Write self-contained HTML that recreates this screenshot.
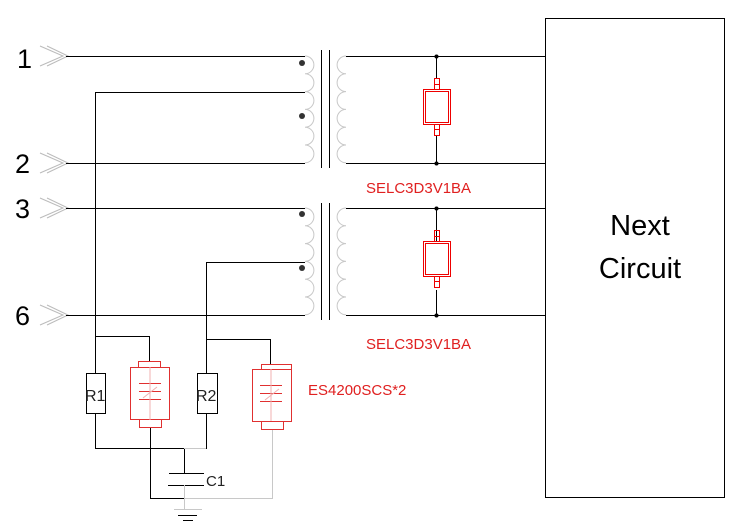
<!DOCTYPE html>
<html><head><style>body{margin:0;background:#fff}svg{display:block}</style></head><body>
<svg width="741" height="525" xmlns="http://www.w3.org/2000/svg" font-family="Liberation Sans, sans-serif">
<rect width="741" height="525" fill="#fff"/>
<rect x="545.5" y="18.5" width="179" height="479" fill="none" stroke="#000"/>
<text x="640" y="235" font-size="29" text-anchor="middle">Next</text>
<text x="640" y="278" font-size="29" text-anchor="middle">Circuit</text>
<g font-size="27"><text x="17" y="68">1</text><text x="15" y="173">2</text><text x="15" y="218">3</text><text x="15" y="325">6</text></g>
<g fill="none" stroke="#bbb" stroke-width="1">
<path d="M40 46 L63 56 L40 66 M47 46 L68 56 L47 66"/>
<path d="M40 153 L63 163 L40 173 M47 153 L68 163 L47 173"/>
<path d="M40 198 L63 208 L40 218 M47 198 L68 208 L47 218"/>
<path d="M40 305 L63 315 L40 325 M47 305 L68 315 L47 325"/>
</g>
<g stroke="#000" fill="none">
<path d="M66 56.5H305M66 163.5H305M66 208.5H305M66 315.5H305"/>
<path d="M305 92.5H95.5V373M305 262.5H206.5V373"/>
<path d="M346 56.5H545M346 163.5H545M346 208.5H545M346 315.5H545"/>
<path d="M321.5 50V168M329.5 50V168M321.5 203V320M329.5 203V320"/>
<path d="M436.5 56V78M436.5 135V163M436.5 208V242M436.5 290V315"/>
<path d="M95.5 336.5H149.5V361M206.5 339.5H270.5V364"/>
<path d="M95.5 413V448.5H206.5V413M150.5 427V498.5H184M184.5 448V473M169 473.5H204M168 485.5H204"/>
<path d="M178 515.5H197M183 520.5H193"/>
</g>
<g fill="#333"><circle cx="302" cy="63" r="3"/><circle cx="302" cy="116" r="3"/><circle cx="302" cy="214" r="3"/><circle cx="302" cy="268" r="3"/></g>
<g fill="#000"><circle cx="436.5" cy="56.5" r="2"/><circle cx="436.5" cy="163.5" r="2"/><circle cx="436.5" cy="208.5" r="2"/><circle cx="436.5" cy="315.5" r="2"/></g>
<g fill="none" stroke="#c8c8c8">
<path d="M305 56 a8.9 8.9 0 0 1 0 17.8 a8.9 8.9 0 0 1 0 17.8 a8.9 8.9 0 0 1 0 17.8 a8.9 8.9 0 0 1 0 17.8 a8.9 8.9 0 0 1 0 17.8 a8.9 8.9 0 0 1 0 17.8"/>
<path d="M346 56 a8.9 8.9 0 0 0 0 17.8 a8.9 8.9 0 0 0 0 17.8 a8.9 8.9 0 0 0 0 17.8 a8.9 8.9 0 0 0 0 17.8 a8.9 8.9 0 0 0 0 17.8 a8.9 8.9 0 0 0 0 17.8"/>
<path d="M305 208 a8.9 8.9 0 0 1 0 17.8 a8.9 8.9 0 0 1 0 17.8 a8.9 8.9 0 0 1 0 17.8 a8.9 8.9 0 0 1 0 17.8 a8.9 8.9 0 0 1 0 17.8 a8.9 8.9 0 0 1 0 17.8"/>
<path d="M346 208 a8.9 8.9 0 0 0 0 17.8 a8.9 8.9 0 0 0 0 17.8 a8.9 8.9 0 0 0 0 17.8 a8.9 8.9 0 0 0 0 17.8 a8.9 8.9 0 0 0 0 17.8 a8.9 8.9 0 0 0 0 17.8"/>
<path d="M206 448.5H184M184.5 485V509M184 498.5H272.5V429M174 509.5H202"/>
</g>
<g fill="none" stroke="#e00" stroke-width="1">
<rect x="423.5" y="89.5" width="27" height="35"/><rect x="425.5" y="91.5" width="23" height="31"/>
<rect x="434.5" y="78.5" width="5" height="11"/><rect x="434.5" y="124.5" width="5" height="11"/>
<path d="M434 84.5H440M434 129.5H440"/>
<rect x="423.5" y="241.5" width="27" height="35"/><rect x="425.5" y="243.5" width="23" height="31"/>
<rect x="434.5" y="230.5" width="5" height="11"/><rect x="434.5" y="276.5" width="5" height="11"/>
<path d="M434 236.5H440M434 281.5H440"/>
</g>
<g fill="none" stroke="#e03030">
<rect x="130.5" y="367.5" width="39" height="52"/><rect x="138.5" y="361.5" width="22" height="6"/><rect x="139.5" y="419.5" width="22" height="8"/>
<path d="M139 383.5H161M139 391.5H161M139 399.5H161"/>
<rect x="252.5" y="369.5" width="39" height="52"/><rect x="261.5" y="364.5" width="30" height="5"/><rect x="261.5" y="421.5" width="22" height="8"/>
<path d="M260 385.5H282M260 393.5H282M260 401.5H282"/>
</g>
<g stroke="#f0b0b0"><path d="M150 367V420M143 398L157 387M271 369V421M265 400L279 389"/></g>
<g fill="#fff" stroke="#000"><rect x="86.5" y="373.5" width="19" height="40"/><rect x="197.5" y="373.5" width="20" height="40"/></g>
<g font-size="16" fill="#222"><text x="85" y="401">R1</text><text x="196" y="401">R2</text><text x="206" y="486" font-size="15">C1</text></g>
<g font-size="15" fill="#e02020"><text x="308" y="395">ES4200SCS*2</text><text x="366" y="193">SELC3D3V1BA</text><text x="366" y="349">SELC3D3V1BA</text></g>
</svg>
</body></html>
